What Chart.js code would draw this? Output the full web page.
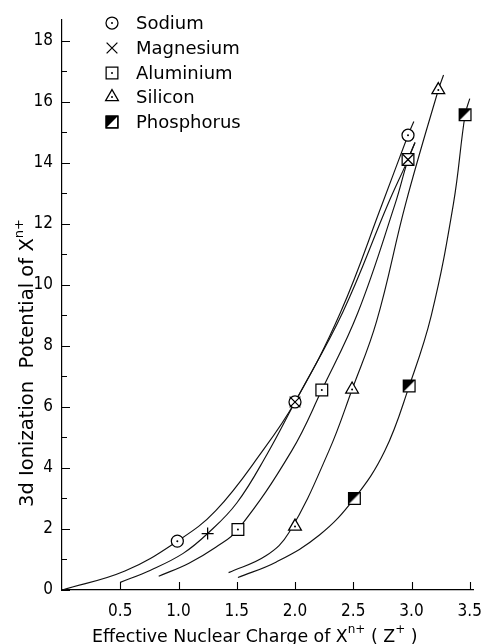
<!DOCTYPE html>
<html><head><meta charset="utf-8">
<script src="https://cdn.jsdelivr.net/npm/chart.js@4/dist/chart.umd.min.js"></script>
<style>html,body{margin:0;padding:0;background:#fff}#wrap{width:493px;height:644px;position:relative}</style>
</head><body><div id="wrap"><canvas id="c" width="493" height="644"></canvas></div>
<script>
// ---- data ----
const categories = ['Sodium', 'Magnesium', 'Aluminium', 'Silicon', 'Phosphorus'];

// measured points (markers)
const sodiumX = [0.99, 2.0, 2.97];      const sodiumY = [1.6, 6.16, 14.9];
const magnesiumX = [1.25, 2.0, 2.97];   const magnesiumY = [1.85, 6.16, 14.1];
const aluminiumX = [1.51, 2.23, 2.97];  const aluminiumY = [1.98, 6.55, 14.1];
const siliconX = [2.0, 2.49, 3.23];     const siliconY = [2.08, 6.57, 16.38];
const phosphorusX = [2.51, 2.98, 3.46]; const phosphorusY = [3.0, 6.68, 15.57];

// drawn curves
const sodiumCurveX = [0, 0.54, 0.99, 1.32, 1.72, 2.0, 2.39, 2.75, 2.97, 3.02];
const sodiumCurveY = [0, 0.62, 1.6, 2.6, 4.55, 6.16, 9.09, 12.66, 14.9, 15.35];
const magnesiumCurveX = [0.5, 0.76, 1.04, 1.25, 1.5, 1.76, 2.0, 2.41, 2.8, 2.97, 3.03];
const magnesiumCurveY = [0.25, 0.65, 1.2, 1.85, 2.85, 4.45, 6.16, 9.1, 12.66, 14.1, 14.66];
const aluminiumCurveX = [0.83, 1.09, 1.32, 1.51, 1.97, 2.23, 2.54, 2.86, 2.97, 3.03];
const aluminiumCurveY = [0.45, 0.88, 1.4, 1.98, 4.55, 6.55, 9.09, 12.66, 14.1, 14.66];
const siliconCurveX = [1.43, 1.75, 1.95, 2.29, 2.49, 2.7, 2.95, 3.23, 3.275];
const siliconCurveY = [0.57, 1.12, 1.89, 4.55, 6.57, 8.8, 12.66, 16.38, 16.87];
const phosphorusCurveX = [1.51, 1.84, 2.21, 2.51, 2.77, 2.98, 3.17, 3.36, 3.46, 3.5];
const phosphorusCurveY = [0.41, 0.92, 1.8, 3.0, 4.55, 6.68, 9.0, 12.66, 15.57, 16.1];

// axis tick labels
const xTickLabels = ['0.5', '1.0', '1.5', '2.0', '2.5', '3.0', '3.5'];
const yTickLabels = ['0', '2', '4', '6', '8', '10', '12', '14', '16', '18'];

// ---- marker styles ----
const CIRCLE = { pointStyle: 'circle', radius: 6 };
const XMARK = { pointStyle: 'crossRot', radius: 7.6 };
const PLUS = { pointStyle: 'cross', radius: 6 };
const SQUARE = { pointStyle: 'rect', radius: 8.3 };
const TRIANGLE = { pointStyle: 'triangle', radius: 7.4 };

function halfImage() {
  const S = 12, c = document.createElement('canvas');
  c.width = S; c.height = S;
  const g = c.getContext('2d');
  g.fillStyle = '#000';
  g.beginPath(); g.moveTo(0, 0); g.lineTo(S, 0); g.lineTo(0, S); g.closePath(); g.fill();
  return c;
}
const HALF = halfImage();

const toPts = (xs, ys) => xs.map((x, i) => ({ x, y: ys[i] }));

function curve(xs, ys) {
  return { data: toPts(xs, ys), showLine: true, borderColor: '#111', borderWidth: 1.15,
    pointRadius: 0, tension: 0.4, fill: false, order: 10 };
}
function markers(label, xs, ys, st, order, rot) {
  return { label, data: toPts(xs, ys), showLine: false, pointStyle: st.pointStyle, pointRadius: st.radius,
    pointRotation: rot || 0, borderColor: '#000', backgroundColor: '#fff', pointBorderWidth: 1.25, order };
}
function dots(xs, ys) {
  return { data: toPts(xs, ys), showLine: false, pointStyle: 'circle', pointRadius: 1,
    pointBorderWidth: 0, backgroundColor: '#000', borderColor: '#000', order: 2 };
}

const datasets = [
  curve(sodiumCurveX, sodiumCurveY),
  curve(magnesiumCurveX, magnesiumCurveY),
  curve(aluminiumCurveX, aluminiumCurveY),
  curve(siliconCurveX, siliconCurveY),
  curve(phosphorusCurveX, phosphorusCurveY),
  markers(categories[0], sodiumX, sodiumY, CIRCLE, 4),
  dots(sodiumX, sodiumY),
  { label: categories[1], data: toPts(magnesiumX, magnesiumY), showLine: false,
    pointStyle: [PLUS.pointStyle, XMARK.pointStyle, XMARK.pointStyle],
    pointRadius: [PLUS.radius, XMARK.radius, XMARK.radius],
    borderColor: '#000', backgroundColor: '#fff', pointBorderWidth: 1.25, order: 1 },
  markers(categories[2], aluminiumX, aluminiumY, SQUARE, 4),
  dots(aluminiumX, aluminiumY),
  markers(categories[3], siliconX, siliconY, TRIANGLE, 4),
  dots(siliconX, siliconY),
  markers(categories[4], phosphorusX, phosphorusY, SQUARE, 4),
  { data: toPts(phosphorusX, phosphorusY), showLine: false, pointStyle: HALF, pointRadius: 6, order: 3 }
];

const TICK_FONT = '"DejaVu Sans Condensed", "Liberation Sans Narrow", "DejaVu Sans", sans-serif';
const TEXT_FONT = '"DejaVu Sans", sans-serif';

function drawRich(ctx, parts, fs) {
  let x = 0;
  for (const p of parts) {
    if (p.sup) {
      ctx.font = Math.round(fs * 0.68) + 'px ' + TEXT_FONT;
      ctx.fillText(p.t, x, -fs * 0.5);
    } else {
      ctx.font = fs + 'px ' + TEXT_FONT;
      ctx.fillText(p.t, x, 0);
    }
    x += ctx.measureText(p.t).width;
  }
  return x;
}
function fitSize(ctx, text, target) {
  ctx.font = '18px ' + TEXT_FONT;
  return 18 * target / ctx.measureText(text).width;
}

const decor = {
  id: 'decor',
  afterDraw(chart) {
    const { ctx, scales: { x, y }, chartArea: a } = chart;
    ctx.save();
    ctx.strokeStyle = '#000'; ctx.lineWidth = 1.1;
    ctx.beginPath();
    for (const t of y.ticks) {
      const py = Math.round(y.getPixelForValue(t.value)) + 0.5;
      const len = (Math.round(t.value) % 2 === 0) ? 8 : 5;
      ctx.moveTo(a.left, py); ctx.lineTo(a.left + len, py);
    }
    for (const t of x.ticks) {
      if (t.value === 0) continue;
      const px = Math.round(x.getPixelForValue(t.value)) + 0.5;
      ctx.moveTo(px, a.bottom); ctx.lineTo(px, a.bottom - 8);
    }
    ctx.stroke();

    ctx.fillStyle = '#000';
    ctx.textAlign = 'left'; ctx.textBaseline = 'alphabetic';
    const xMain = 'Effective Nuclear Charge of X';
    const fsx = fitSize(ctx, xMain, 256);
    ctx.save(); ctx.translate(92, 642);
    drawRich(ctx, [{ t: xMain }, { t: 'n+', sup: true }, { t: ' ( Z' }, { t: '+', sup: true }, { t: ' )' }], fsx);
    ctx.restore();
    const yMain = '3d Ionization  Potential of X';
    const fsy = fitSize(ctx, yMain, 269);
    ctx.save(); ctx.translate(33, 507); ctx.rotate(-Math.PI / 2);
    drawRich(ctx, [{ t: yMain }, { t: 'n+', sup: true }], fsy);
    ctx.restore();

    // legend
    const rows = [23, 48, 73, 97, 122];
    const styles = [CIRCLE, XMARK, SQUARE, TRIANGLE, SQUARE];
    categories.forEach((name, i) => {
      const st = styles[i];
      ctx.fillStyle = '#fff'; ctx.strokeStyle = '#000'; ctx.lineWidth = 1.25;
      Chart.helpers.drawPoint(ctx, { pointStyle: st.pointStyle, radius: st.radius, rotation: 0, borderWidth: 1.25 }, 112, rows[i]);
      ctx.fillStyle = '#000';
      if (i === 0 || i === 2 || i === 3) { ctx.beginPath(); ctx.arc(112, rows[i], 1, 0, Math.PI * 2); ctx.fill(); }
      if (i === 4) { ctx.drawImage(HALF, 106, rows[i] - 6); ctx.strokeRect(106.1, rows[i] - 5.9, 11.8, 11.8); }
      ctx.font = '18px ' + TEXT_FONT; ctx.textBaseline = 'middle';
      ctx.fillText(name, 136, rows[i] + 1);
    });
    ctx.restore();
  }
};

new Chart(document.getElementById('c'), {
  type: 'scatter',
  data: { datasets },
  options: {
    responsive: false, animation: false, devicePixelRatio: 1,
    layout: { padding: { top: 13, right: 8, left: 0, bottom: 0 } },
    plugins: { legend: { display: false }, tooltip: { enabled: false } },
    scales: {
      x: {
        type: 'linear', min: 0, max: 3.53,
        grid: { display: true, drawOnChartArea: false, drawTicks: false },
        border: { display: true, color: '#000', width: 1.2 },
        ticks: { stepSize: 0.5, includeBounds: false, color: '#000', padding: 11,
          font: { family: TICK_FONT, size: 17 }, maxRotation: 0, autoSkip: false,
          callback: (v) => { const i = Math.round(v * 2) - 1; return (i >= 0 && Math.abs(v * 2 - Math.round(v * 2)) < 1e-6) ? xTickLabels[i] : ''; } },
        afterFit: (s) => { s.height = 54; }
      },
      y: {
        type: 'linear', min: 0, max: 18.7,
        grid: { display: true, drawOnChartArea: false, drawTicks: false },
        border: { display: true, color: '#000', width: 1.2 },
        ticks: { stepSize: 1, includeBounds: false, color: '#000', padding: 9,
          font: { family: TICK_FONT, size: 17 }, autoSkip: false,
          callback: (v) => (Math.round(v) % 2 === 0 ? yTickLabels[Math.round(v) / 2] : '') },
        afterFit: (s) => { s.width = 62; }
      }
    }
  },
  plugins: [decor]
});
</script></body></html>
